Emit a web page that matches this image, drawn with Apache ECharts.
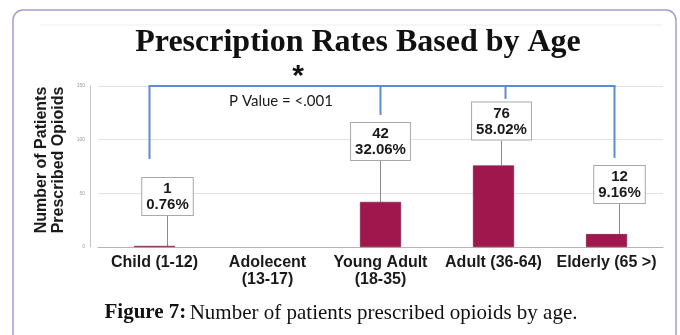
<!DOCTYPE html>
<html>
<head>
<meta charset="utf-8">
<script src="https://cdn.jsdelivr.net/npm/echarts@6/dist/echarts.min.js"></script>
<style>html,body{margin:0;padding:0;background:#fff;}#c{width:680px;height:335px;}</style>
</head>
<body>
<div id="c"></div>
<script>
// ---- data ----
var categories = ['Child (1-12)', 'Adolecent\n(13-17)', 'Young Adult\n(18-35)', 'Adult (36-64)', 'Elderly (65 >)'];
var patients = [1, 0, 42, 76, 12];
var percents = ['0.76%', '', '32.06%', '58.02%', '9.16%'];
var yTicks = [0, 50, 100, 150];
var bracketCats = [0, 2, 3, 4];
var bracketEnds = [82, 123, 138, 83];
var bracketTop = 150;
var titleText = 'Prescription Rates Based by Age';
var pValueText = 'P Value = <.001';
var yName = 'Number of Patients\nPrescribed Opioids';
var captionBold = 'Figure 7:';
var captionText = 'Number of patients prescribed opioids by age.';

var SANS = '"Liberation Sans", Arial, Helvetica, sans-serif';
var SERIF = '"Liberation Serif", "Times New Roman", serif';

var chart = echarts.init(document.getElementById('c'), null, {renderer: 'canvas'});

// label shifts (px) relative to default 'top' label position
var labelShift = [[13, -26], [0, 0], [0, -37], [8, -21], [13, -26]];
// bracket drop horizontal nudges (px)
var dropNudge = [-5, 0, 12, 8];

var barData = patients.map(function (v) {
  return v > 0 ? v : {value: v, label: {show: false}, labelLine: {show: false}, itemStyle: {borderWidth: 0}};
});

var option = {
  animation: false,
  backgroundColor: '#fff',
  grid: {left: 98, right: 17, top: 86, bottom: 88, containLabel: false},
  xAxis: {
    type: 'category',
    data: categories,
    axisLine: {lineStyle: {color: '#b5b5b5', width: 1}},
    axisTick: {show: false},
    axisLabel: {
      interval: 0, color: '#1a1a1a', fontFamily: SANS, fontWeight: 'bold',
      fontSize: 16, lineHeight: 17, margin: 7
    }
  },
  yAxis: {
    type: 'value', min: yTicks[0], max: yTicks[yTicks.length - 1], interval: yTicks[1] - yTicks[0],
    offset: 8,
    axisLine: {show: true, lineStyle: {color: '#c4c4c4', width: 1}},
    axisTick: {show: false},
    axisLabel: {fontSize: 5, color: '#9a9a9a', margin: 5, fontFamily: SANS},
    splitLine: {show: true, lineStyle: {color: '#e2e2e2', width: 1}}
  },
  series: [
    {
      type: 'bar',
      data: barData,
      barWidth: 41,
      itemStyle: {color: '#a0174e', borderColor: '#6e1035', borderWidth: 0.5},
      label: {
        show: true, position: 'top', distance: 5,
        formatter: function (p) { return p.value + '\n' + percents[p.dataIndex]; },
        fontFamily: SANS, fontWeight: 'bold', fontSize: 15, lineHeight: 16,
        color: '#1a1a1a', backgroundColor: '#fff', borderColor: '#a8a8a8', borderWidth: 1,
        padding: [3, 4, 2, 4]
      },
      labelLine: {show: true, lineStyle: {color: '#8a8a8a', width: 1}},
      labelLayout: function (p) {
        var s = labelShift[p.dataIndex];
        return {dx: s[0], dy: s[1]};
      },
      z: 2
    },
    {
      type: 'custom',
      coordinateSystem: 'cartesian2d',
      data: bracketCats.map(function (c, i) { return [c, bracketEnds[i]]; }),
      renderItem: function (params, api) {
        var i = params.dataIndex;
        var top = api.coord([api.value(0), bracketTop]);
        var end = api.coord([api.value(0), api.value(1)]);
        var x = top[0] + dropNudge[i];
        var children = [{
          type: 'line',
          shape: {x1: x, y1: top[1], x2: x, y2: end[1]},
          style: {stroke: '#5b8dd0', lineWidth: 2}
        }];
        if (i === 0) {
          var first = api.coord([bracketCats[0], bracketTop]);
          var last = api.coord([bracketCats[bracketCats.length - 1], bracketTop]);
          children.push({
            type: 'line',
            shape: {x1: first[0] + dropNudge[0] - 1, y1: first[1], x2: last[0] + dropNudge[dropNudge.length - 1] + 1, y2: last[1]},
            style: {stroke: '#5b8dd0', lineWidth: 2}
          });
        }
        return {type: 'group', children: children};
      },
      z: 3,
      silent: true
    }
  ],
  graphic: [
    {type: 'rect', shape: {x: 13, y: 10, width: 663, height: 345, r: 10},
     style: {fill: 'none', stroke: '#a59bd2', lineWidth: 1.5}, z: 0},
    {type: 'line', shape: {x1: 40, y1: 25, x2: 662, y2: 25},
     style: {stroke: '#ededed', lineWidth: 1}, z: 0},
    {type: 'text', x: 358, y: 43,
     style: {text: titleText, font: 'bold 32px ' + SERIF, fill: '#111', textAlign: 'center', textVerticalAlign: 'middle'}},
    {type: 'text', x: 298, y: 77,
     style: {text: '*', font: 'bold 30px ' + SANS, fill: '#111', textAlign: 'center', textVerticalAlign: 'middle'}},
    {type: 'text', x: 281, y: 101,
     style: {text: pValueText, font: '15px Lato', fill: '#1a1a1a', textAlign: 'center', textVerticalAlign: 'middle'}},
    {type: 'text', x: 50, y: 160, rotation: Math.PI / 2,
     style: {text: yName, font: 'bold 16px ' + SANS, lineHeight: 17, fill: '#1a1a1a', textAlign: 'center', textVerticalAlign: 'middle'}},
    {type: 'text', x: 341, y: 313,
     style: {
       text: '{b|' + captionBold + '} {r|' + captionText + '}',
       rich: {
         b: {fontFamily: SERIF, fontWeight: 'bold', fontSize: 21, fill: '#111'},
         r: {fontFamily: SERIF, fontSize: 21, fill: '#111'}
       },
       textAlign: 'center', textVerticalAlign: 'middle'
     }}
  ]
};
chart.setOption(option);
</script>
</body>
</html>
